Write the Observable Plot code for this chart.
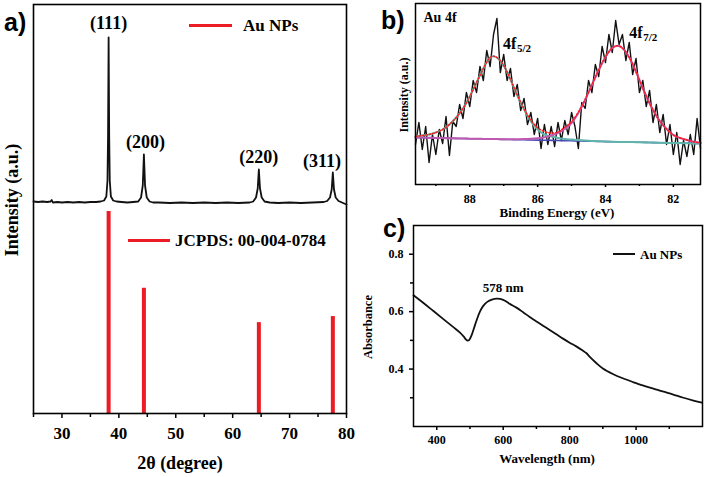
<!DOCTYPE html>
<html><head><meta charset="utf-8">
<script src="https://cdn.jsdelivr.net/npm/d3@7"></script>
<script src="https://cdn.jsdelivr.net/npm/@observablehq/plot@0.6"></script>
<style>
body{margin:0;background:#fff;}
#root{position:relative;width:706px;height:477px;overflow:hidden;background:#fff;font-family:"Liberation Serif",serif;font-weight:bold;color:#000;}
.abs{position:absolute;}
.abs svg{display:block;}
.lbl{position:absolute;white-space:nowrap;line-height:1;}
</style></head><body><div id="root"></div>
<script>
// ---------- Panel a: XRD pattern ----------
const xrdAngle = [25,25.8,26.6,27.4,28.0,28.2,28.4,29.2,30,31,32,33,34,35,36,36.8,37.4,37.8,38.0,38.1,38.2,38.3,38.4,38.6,39.0,39.6,40.5,41.5,42.5,43.4,43.9,44.2,44.4,44.6,44.9,45.4,46,47,49,51,53,55,57,59,61,63,63.6,64.1,64.4,64.6,64.8,65.1,65.6,66.5,68,70,72,74,76,76.6,77.1,77.4,77.6,77.8,78.1,78.6,79.2,79.6,80];
const xrdIntensity = [4,3.5,4,3.5,4,5.5,3,3.5,3,3.5,3,3.5,3,3.5,3.5,4,5,9,25,70,168,70,25,9,5,4,3.5,3,3.5,4,8,20,51,20,8,4,3,3,2.5,3,2.5,3,2.5,3,2.5,3,4,8,17,36,17,8,4,3,2.5,3,2.5,3,3.5,4.5,8,16,33,16,8,4.5,3,2,1];
const peakLabels = ["(111)","(200)","(220)","(311)"];
const peakLabelAngle = [38.2,44.7,64.6,75.7];
const peakLabelY = [182,63,48,44];
const jcpdsAngle = [38.2,44.4,64.6,77.6];
const jcpdsIntensity = [100,62,45,48];
const xrdTicks = [30,40,50,60,70,80];
const xrdMinorTicks = [25,35,45,55,65,75];

// ---------- Panel b: XPS Au 4f ----------
const xpsEnergy = [89.6,89.5,89.4,89.3,89.2,89.1,89.0,88.9,88.8,88.7,88.6,88.5,88.4,88.3,88.2,88.1,88.0,87.9,87.8,87.7,87.6,87.5,87.4,87.3,87.2,87.1,87.0,86.9,86.8,86.7,86.6,86.5,86.4,86.3,86.2,86.1,86.0,85.9,85.8,85.7,85.6,85.5,85.4,85.3,85.2,85.1,85.0,84.9,84.8,84.7,84.6,84.5,84.4,84.3,84.2,84.1,84.0,83.9,83.8,83.7,83.6,83.5,83.4,83.3,83.2,83.1,83.0,82.9,82.8,82.7,82.6,82.5,82.4,82.3,82.2,82.1,82.0,81.9,81.8,81.7,81.6,81.5,81.4,81.3,81.2];
const xpsCounts = [40,62,35,58,22,50,30,55,41,68,29,63,58,80,66,92,78,104,92,118,104,134,118,150,166,112,130,104,116,88,100,74,86,60,72,50,66,36,60,40,58,38,62,44,64,50,72,58,36,82,76,104,92,120,108,138,122,150,132,164,140,150,124,142,110,126,92,104,78,94,62,80,52,70,40,60,30,52,20,44,28,50,30,66,36];
const fitEnergy = [89.6,89.4,89.2,89.0,88.8,88.6,88.4,88.2,88.0,87.8,87.6,87.4,87.2,87.0,86.8,86.6,86.4,86.2,86.0,85.8,85.6,85.4,85.2,85.0,84.8,84.6,84.4,84.2,84.0,83.8,83.6,83.4,83.2,83.0,82.8,82.6,82.4,82.2,82.0,81.8,81.6,81.4,81.2];
const fitEnvelope = [48,49,50,52,55,60,67,76,88,102,116,127,127,119,105,89.5,75.7,64.2,56.9,53,51.4,52.5,57.2,62.8,72.5,85.1,99.9,114.7,127.6,136.5,138.5,132.5,120.5,104.5,88.5,74.5,63.5,55.5,49.5,46.5,44.5,42.8,41.8];
const fitPeak52 = [48,49,50,52,55,60,67,76,88,102,116,127,127,119,105,89,75,63,55,50,48,46.5,45.5,45,44.5,44,43.6,43.3,43,42.8,42.6,42.5,42.4,42.2,42.1,41.9,41.8,41.6,41.5,41.4,41.2,41.1,41];
const fitPeak72 = [47,46.9,46.7,46.6,46.4,46.3,46.1,46,45.8,45.7,45.6,45.5,45.4,45.3,45.3,45.3,45.4,45.7,46.3,47.3,49,51.5,55.5,61.5,71.5,84.5,99.5,114.5,127.5,136.5,138.5,132.5,120.5,104.5,88.5,74.5,63.5,55.5,49.5,46.5,44.5,42.8,41.8];
const fitBackground = [47,46.9,46.7,46.6,46.4,46.3,46.1,46,45.8,45.7,45.6,45.4,45.3,45.1,45,44.8,44.7,44.5,44.4,44.3,44.1,44,43.8,43.7,43.5,43.4,43.2,43.1,42.9,42.8,42.6,42.5,42.4,42.2,42.1,41.9,41.8,41.6,41.5,41.4,41.2,41.1,41];
const xpsTicks = [88,86,84,82];
const xpsMinorTicks = [89,87,85,83];
const xpsNotes = [{x:87.02,y:141,main:"4f",sub:"5/2"},{x:83.3,y:152,main:"4f",sub:"7/2"}];

// ---------- Panel c: UV-vis ----------
const wavelength = [330,360,390,420,450,470,482,488,493,498,505,512,520,530,540,552,566,581,600,620,640,660,680,700,720,740,760,780,800,820,840,850,860,880,900,930,960,990,1020,1050,1080,1110,1140,1170,1198];
const absorbance = [0.657,0.630,0.602,0.574,0.546,0.527,0.512,0.503,0.499,0.502,0.518,0.542,0.570,0.600,0.620,0.634,0.642,0.645,0.641,0.627,0.614,0.598,0.581,0.566,0.551,0.536,0.521,0.506,0.492,0.479,0.464,0.456,0.443,0.421,0.402,0.383,0.368,0.355,0.343,0.333,0.322,0.312,0.301,0.291,0.283];
const uvTicksX = [400,600,800,1000];
const uvMinorX = [500,700,900,1100];
const uvTicksY = [0.4,0.6,0.8];
const uvMinorY = [0.3,0.5,0.7];
const uvNote = [{x:600,y:0.683,text:"578 nm"}];

const RED = "#ec1c24";
const root = document.getElementById("root");
const baseStyle = {fontFamily:"Liberation Serif", fontWeight:"bold", color:"black", background:"none", overflow:"visible"};

function place(svg, left, top){
  const d = document.createElement("div");
  d.className = "abs"; d.style.left = left+"px"; d.style.top = top+"px";
  d.appendChild(svg); root.appendChild(d);
}
function label(text, x, y, size, opts={}){
  const d = document.createElement("div");
  d.className = "lbl";
  d.innerHTML = text;
  d.style.fontSize = size+"px";
  if (opts.family) d.style.fontFamily = opts.family;
  let tr = opts.anchor === "left" ? "translate(0,-50%)" : "translate(-50%,-50%)";
  if (opts.rotate) tr += " rotate(-90deg)";
  d.style.left = x+"px"; d.style.top = y+"px"; d.style.transform = tr;
  root.appendChild(d);
}
function legendLine(x1, x2, y, color, w){
  const d = document.createElement("div");
  d.className = "abs";
  d.style.left = x1+"px"; d.style.top = (y - w/2)+"px";
  d.style.width = (x2-x1)+"px"; d.style.height = w+"px"; d.style.background = color;
  root.appendChild(d);
}

// Panel a: reference bars, frame and axis
const jcpds = jcpdsAngle.map((a,i)=>({a, v:jcpdsIntensity[i]}));
place(Plot.plot({
  width:360, height:477, marginLeft:33, marginRight:14, marginTop:4, marginBottom:64,
  style:{...baseStyle, fontSize:"17px"},
  x:{domain:[25,80]}, y:{domain:[0,202.5], axis:null},
  marks:[
    Plot.ruleX(jcpds, {x:"a", y:"v", stroke:RED, strokeWidth:4}),
    Plot.axisX({ticks:xrdTicks, tickSize:5, tickPadding:8, fontSize:17, fontWeight:"bold", strokeWidth:1.5, label:null}),
    Plot.axisX({ticks:xrdMinorTicks, tickSize:4, text:null, strokeWidth:1.5, label:null}),
    Plot.frame({stroke:"black", strokeWidth:1.6})
  ]
}), 0, 0);

// Panel a: measured pattern (upper part)
const xrd = xrdAngle.map((a,i)=>({a, v:xrdIntensity[i]}));
const peaks = peakLabels.map((t,i)=>({t, a:peakLabelAngle[i], v:peakLabelY[i]}));
place(Plot.plot({
  width:360, height:477, marginLeft:33, marginRight:14, marginTop:4, marginBottom:272,
  style:{...baseStyle, fontSize:"18px"},
  x:{domain:[25,80], axis:null}, y:{domain:[0,201], axis:null},
  marks:[
    Plot.line(xrd, {x:"a", y:"v", stroke:"#111", strokeWidth:1.8}),
    Plot.text(peaks, {x:"a", y:"v", text:"t", fontSize:18, fontWeight:"bold"})
  ]
}), 0, 0);

label("a)", 4, 22, 25, {anchor:"left", family:"Liberation Sans"});
label("Intensity (a.u.)", 12, 200, 18, {rotate:true});
label("2θ (degree)", 180, 463, 18);
legendLine(189, 232, 25, RED, 3);
label("Au NPs", 243, 25, 17, {anchor:"left"});
legendLine(128, 170, 240, RED, 3);
label("JCPDS: 00-004-0784", 175, 240, 17, {anchor:"left"});

// Panel b
const xps = xpsEnergy.map((e,i)=>({e, c:xpsCounts[i]}));
const fit = fitEnergy.map((e,i)=>({e, env:fitEnvelope[i], p1:fitPeak52[i], p2:fitPeak72[i], bg:fitBackground[i]}));
place(Plot.plot({
  width:346, height:230, marginLeft:55, marginRight:6, marginTop:3, marginBottom:46,
  style:{...baseStyle, fontSize:"12px"},
  x:{domain:[89.6,81.2]}, y:{domain:[0,181], axis:null},
  marks:[
    Plot.line(xps, {x:"e", y:"c", stroke:"#111", strokeWidth:1.4}),
    Plot.line(fit, {x:"e", y:"bg", stroke:"#4a48b8", strokeWidth:1.6, curve:"natural"}),
    Plot.line(fit, {x:"e", y:"p1", stroke:"#5fb5aa", strokeWidth:2, curve:"natural"}),
    Plot.line(fit, {x:"e", y:"p2", stroke:"#c05ab0", strokeWidth:2, curve:"natural"}),
    Plot.line(fit, {x:"e", y:"env", stroke:"#ff1a1a", strokeWidth:1.5, strokeDasharray:"1.5,2", curve:"natural"}),
    Plot.text(xpsNotes, {x:"x", y:"y", text:"main", textAnchor:"start", fontSize:16, fontWeight:"bold"}),
    Plot.text(xpsNotes, {x:"x", y:"y", text:"sub", textAnchor:"start", dx:14, dy:5, fontSize:11, fontWeight:"bold"}),
    Plot.text(["Au 4f"], {frameAnchor:"top-left", dx:8, dy:14, lineAnchor:"middle", textAnchor:"start", fontSize:14, fontWeight:"bold"}),
    Plot.axisX({ticks:xpsTicks, tickSize:3, tickPadding:7, fontSize:12, fontWeight:"bold", strokeWidth:1.5, label:null}),
    Plot.axisX({ticks:xpsMinorTicks, tickSize:2, text:null, strokeWidth:1.5, label:null}),
    Plot.frame({stroke:"black", strokeWidth:1.5})
  ]
}), 360, 0);
label("b)", 381, 20, 25, {anchor:"left", family:"Liberation Sans"});
label("Intensity (a.u.)", 404, 95, 12, {rotate:true});
label("Binding Energy (eV)", 557, 212, 13);

// Panel c
const uv = wavelength.map((w,i)=>({w, a:absorbance[i]}));
place(Plot.plot({
  width:346, height:262, marginLeft:53, marginRight:4, marginTop:10, marginBottom:51,
  style:{...baseStyle, fontSize:"12px"},
  x:{domain:[330,1200]}, y:{domain:[0.2,0.9]},
  marks:[
    Plot.line(uv, {x:"w", y:"a", stroke:"#111", strokeWidth:1.8, curve:"catmull-rom"}),
    Plot.text(uvNote, {x:"x", y:"y", text:"text", fontSize:13, fontWeight:"bold"}),
    Plot.axisX({ticks:uvTicksX, tickSize:4, tickPadding:5, fontSize:12, fontWeight:"bold", strokeWidth:1.5, label:null, tickFormat:d3.format("d")}),
    Plot.axisX({ticks:uvMinorX, tickSize:3, text:null, strokeWidth:1.5, label:null}),
    Plot.axisY({ticks:uvTicksY, tickSize:4, tickPadding:6, fontSize:12, fontWeight:"bold", strokeWidth:1.5, label:null, tickFormat:d3.format(".1f")}),
    Plot.axisY({ticks:uvMinorY, tickSize:3, text:null, strokeWidth:1.5, label:null}),
    Plot.frame({stroke:"black", strokeWidth:1.5})
  ]
}), 360, 215);
label("c)", 383, 228, 25, {anchor:"left", family:"Liberation Sans"});
label("Absorbance", 368, 327, 12.5, {rotate:true});
label("Wavelength (nm)", 547, 458, 13);
legendLine(613, 635, 254, "#111", 2);
label("Au NPs", 640, 254, 13, {anchor:"left"});
</script></body></html>
